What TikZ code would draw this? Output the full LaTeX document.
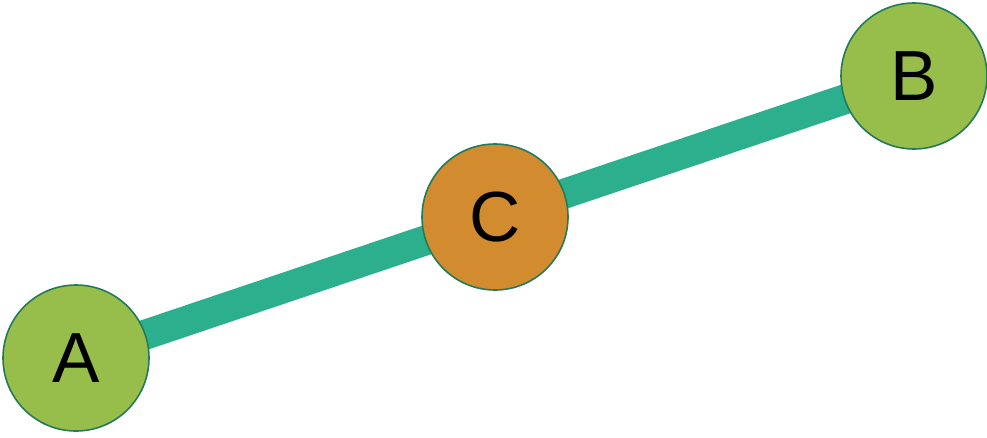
\documentclass[tikz,border=0pt]{standalone}
\usepackage{fontspec}
\setmainfont{Liberation Sans}
\definecolor{edgec}{HTML}{2BAF8C}
\definecolor{greenfill}{HTML}{97BE4B}
\definecolor{orangefill}{HTML}{D38B2F}
\definecolor{ringc}{HTML}{237B5A}
\begin{document}
\begin{tikzpicture}[x=1pt,y=-1pt,
  vtx/.style={circle,draw=ringc,line width=1.6pt,minimum size=146pt,inner sep=0pt,
    font=\fontsize{71}{71}\selectfont},
  link/.style={edgec,line width=30pt}]
\useasboundingbox (0,0) rectangle (987,437);
\draw[link] (76,358) coordinate (a0) -- (495,217) coordinate (c0) -- (914,76) coordinate (b0);
\node[vtx,fill=greenfill] (A) at (a0) {A};
\node[vtx,fill=orangefill] (C) at (c0) {C};
\node[vtx,fill=greenfill] (B) at (b0) {B};
\end{tikzpicture}
\end{document}
